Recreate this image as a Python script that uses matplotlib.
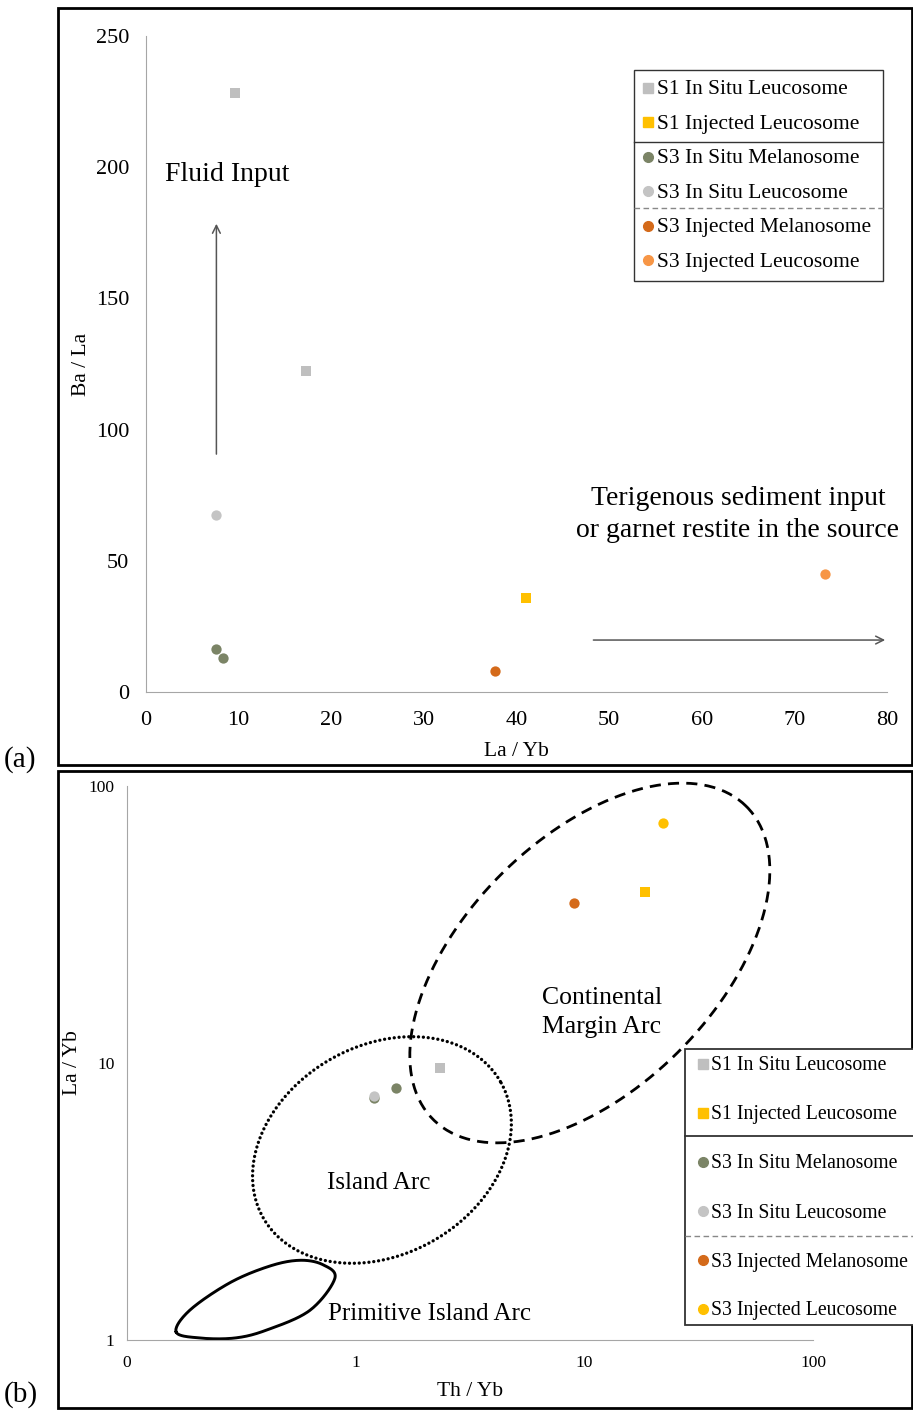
import numpy as np
import matplotlib
matplotlib.use("Agg")
import matplotlib.pyplot as plt
from matplotlib.lines import Line2D
from matplotlib.patches import Rectangle

plt.rcParams['font.family'] = ['Liberation Serif', 'DejaVu Serif']

W, H = 913, 1412

# ---- data, panel (a): Ba/La vs La/Yb ----
a_s1_insitu_leu_x = [9.6, 17.3]
a_s1_insitu_leu_y = [228.3, 122.3]
a_s1_inj_leu_x = [41.0]
a_s1_inj_leu_y = [35.8]
a_s3_insitu_mel_x = [7.6, 8.3]
a_s3_insitu_mel_y = [16.4, 13.0]
a_s3_insitu_leu_x = [7.6]
a_s3_insitu_leu_y = [67.5]
a_s3_inj_mel_x = [37.7]
a_s3_inj_mel_y = [8.0]
a_s3_inj_leu_x = [73.3]
a_s3_inj_leu_y = [45.0]

# ---- data, panel (b): La/Yb vs Th/Yb ----
b_s1_insitu_leu_x = [2.33]
b_s1_insitu_leu_y = [9.6]
b_s1_inj_leu_x = [18.4]
b_s1_inj_leu_y = [41.4]
b_s3_insitu_mel_x = [1.2, 1.5]
b_s3_insitu_mel_y = [7.47, 8.12]
b_s3_insitu_leu_x = [1.2]
b_s3_insitu_leu_y = [7.6]
b_s3_inj_mel_x = [8.98]
b_s3_inj_mel_y = [37.8]
b_s3_inj_leu_x = [22.0]
b_s3_inj_leu_y = [73.5]

labels = ["S1 In Situ Leucosome", "S1 Injected Leucosome",
          "S3 In Situ Melanosome", "S3 In Situ Leucosome",
          "S3 Injected Melanosome", "S3 Injected Leucosome"]
markers = ["s", "s", "o", "o", "o", "o"]
colors_a = ["#BFBFBF", "#FFC000", "#7B8466", "#C4C4C4", "#D46A1A", "#F79646"]
colors_b = ["#BFBFBF", "#FFC000", "#7B8466", "#C4C4C4", "#D46A1A", "#FFC000"]

# Primitive Island Arc boundary (Th/Yb, La/Yb)
pia_x = [0.164, 0.208, 0.297, 0.409, 0.631, 0.811, 0.719, 0.571, 0.422, 0.282, 0.188]
pia_y = [1.069, 1.017, 1.017, 1.087, 1.28, 1.67, 1.87, 1.94, 1.85, 1.61, 1.28]


def fx(px):
    return px / W


def fy(py):
    return 1 - py / H


def ellipse_log(cu, cv, ax_u, ax_v, bx_u, bx_v, n=300):
    t = np.linspace(0, 2 * np.pi, n)
    u = cu + ax_u * np.cos(t) + bx_u * np.sin(t)
    v = cv + ax_v * np.cos(t) + bx_v * np.sin(t)
    return 10 ** u, 10 ** v


def closed_spline(xs, ys, n=30):
    P = np.column_stack([np.log10(xs), np.log10(ys)])
    k = len(P)
    t = np.linspace(0, 1, n, endpoint=False)[:, None]
    out = []
    for i in range(k):
        p0, p1, p2, p3 = P[i - 1], P[i], P[(i + 1) % k], P[(i + 2) % k]
        out.append(0.5 * (2 * p1 + (-p0 + p2) * t + (2 * p0 - 5 * p1 + 4 * p2 - p3) * t ** 2
                          + (-p0 + 3 * p1 - 3 * p2 + p3) * t ** 3))
    out = np.vstack(out + [out[0][:1]])
    return 10 ** out[:, 0], 10 ** out[:, 1]


def draw_legend(fig, x0, y0, x1, y1, first_row, row_h, sep1, sep2, colors, fs, mx, tx, lw):
    fig.add_artist(Rectangle((fx(x0), fy(y1)), fx(x1) - fx(x0), fy(y0) - fy(y1),
                             transform=fig.transFigure, facecolor="white",
                             edgecolor="#333333", lw=lw, zorder=5))
    fig.add_artist(Line2D([fx(x0), fx(x1)], [fy(sep1), fy(sep1)], transform=fig.transFigure,
                          color="#333333", lw=lw, zorder=6))
    fig.add_artist(Line2D([fx(x0), fx(x1)], [fy(sep2), fy(sep2)], transform=fig.transFigure,
                          color="#888888", lw=1, ls=(0, (4, 2.5)), zorder=6))
    for i, (lab, m, c) in enumerate(zip(labels, markers, colors)):
        yy = first_row + i * row_h
        fig.add_artist(Line2D([fx(mx)], [fy(yy)], transform=fig.transFigure, marker=m,
                              markersize=7 if m == "o" else 6.5, color=c, ls="none", zorder=7))
        fig.text(fx(tx), fy(yy + 2), lab, fontsize=fs, va="center", ha="left", zorder=7)


fig = plt.figure(figsize=(W / 100, H / 100), dpi=100)

# panel frames
for (x0, y0, x1, y1) in [(58, 8, 912, 765), (58, 771, 912, 1408)]:
    fig.add_artist(Rectangle((fx(x0), fy(y1)), fx(x1) - fx(x0), fy(y0) - fy(y1),
                             transform=fig.transFigure, fill=False, edgecolor="black", lw=2))
fig.text(fx(4), fy(760), "(a)", fontsize=21, va="center", ha="left")
fig.text(fx(4), fy(1395), "(b)", fontsize=21, va="center", ha="left")

# ---------------- panel (a) ----------------
axA = fig.add_axes([fx(146), fy(692), fx(887) - fx(146), fy(36) - fy(692)])
sa = [(a_s1_insitu_leu_x, a_s1_insitu_leu_y), (a_s1_inj_leu_x, a_s1_inj_leu_y),
      (a_s3_insitu_mel_x, a_s3_insitu_mel_y), (a_s3_insitu_leu_x, a_s3_insitu_leu_y),
      (a_s3_inj_mel_x, a_s3_inj_mel_y), (a_s3_inj_leu_x, a_s3_inj_leu_y)]
for (x, y), m, c in zip(sa, markers, colors_a):
    axA.scatter(x, y, marker=m, s=55 if m == "o" else 48, color=c, zorder=3, linewidths=0)
axA.set_xlim(0, 80)
axA.set_ylim(0, 250)
axA.set_xticks(range(0, 81, 10))
axA.set_yticks(range(0, 251, 50))
axA.tick_params(length=0, labelsize=16, pad=12)
axA.tick_params(axis="x", pad=14)
for s in ["top", "right"]:
    axA.spines[s].set_visible(False)
for s in ["left", "bottom"]:
    axA.spines[s].set_color("#A6A6A6")
axA.set_xlabel("La / Yb", fontsize=15.5, va="center")
axA.set_ylabel("Ba / La", fontsize=15.5, va="center")
axA.xaxis.set_label_coords(0.5, -60 / 656)
axA.yaxis.set_label_coords(-64 / 741, 0.5)

axA.annotate("", xy=(7.6, 179.5), xytext=(7.6, 89.6),
             arrowprops=dict(arrowstyle="->", color="#555555", lw=1.1, mutation_scale=14))
axA.annotate("", xy=(80.1, 19.8), xytext=(48.0, 19.8), annotation_clip=False,
             arrowprops=dict(arrowstyle="->", color="#555555", lw=1.1, mutation_scale=14))
axA.text(2.1, 197.4, "Fluid Input", fontsize=20, ha="left", va="center")
axA.text(63.9, 67.5, "Terigenous sediment input\nor garnet restite in the source",
         fontsize=20, ha="center", va="center", linespacing=1.38)

draw_legend(fig, 634, 70, 883, 281, 88, 34.4, 142, 208, colors_a, 15.5, 648, 657, 1)

# ---------------- panel (b) ----------------
axB = fig.add_axes([fx(127), fy(1340), fx(813) - fx(127), fy(786) - fy(1340)])
sb = [(b_s1_insitu_leu_x, b_s1_insitu_leu_y), (b_s1_inj_leu_x, b_s1_inj_leu_y),
      (b_s3_insitu_mel_x, b_s3_insitu_mel_y), (b_s3_insitu_leu_x, b_s3_insitu_leu_y),
      (b_s3_inj_mel_x, b_s3_inj_mel_y), (b_s3_inj_leu_x, b_s3_inj_leu_y)]
for (x, y), m, c in zip(sb, markers, colors_b):
    axB.scatter(x, y, marker=m, s=55 if m == "o" else 48, color=c, zorder=3, linewidths=0)
axB.set_xscale("log")
axB.set_yscale("log")
axB.set_xlim(0.1, 100)
axB.set_ylim(1, 100)
axB.set_xticks([0.1, 1, 10, 100])
axB.set_xticklabels(["0", "1", "10", "100"])
axB.set_yticks([1, 10, 100])
axB.set_yticklabels(["1", "10", "100"])
axB.minorticks_off()
axB.tick_params(length=0, labelsize=12.5, pad=11)
axB.tick_params(axis="y", pad=9)
for s in ["top", "right"]:
    axB.spines[s].set_visible(False)
for s in ["left", "bottom"]:
    axB.spines[s].set_color("#A6A6A6")
axB.set_xlabel("Th / Yb", fontsize=15.5, va="center")
axB.set_ylabel("La / Yb", fontsize=15.5, va="center")
axB.xaxis.set_label_coords(0.5, -51 / 554)
axB.yaxis.set_label_coords(-55 / 686, 0.5)

# Continental Margin Arc (dashed), Island Arc (dotted), Primitive Island Arc (solid)
ex, ey = ellipse_log(1.024, 1.361, 0.685, 0.565, -0.388, 0.320)
axB.plot(ex, ey, color="black", lw=2.0, ls=(0, (4, 2.6)), clip_on=False)
ix, iy = ellipse_log(0.115, 0.686, 0.518, 0.247, -0.228, 0.326)
axB.plot(ix, iy, color="black", lw=2.4, ls=(0, (0.01, 1.45)), dash_capstyle="round",
         clip_on=False)
px, py = closed_spline(pia_x, pia_y)
axB.plot(px, py, color="black", lw=2.1, clip_on=False)

axB.text(11.9, 15.2, "Continental\nMargin Arc", fontsize=18.5, ha="center", va="center",
         multialignment="left", linespacing=1.38)
axB.text(1.26, 3.69, "Island Arc", fontsize=18, ha="center", va="center")
axB.text(2.11, 1.24, "Primitive Island Arc", fontsize=18, ha="center", va="center")

draw_legend(fig, 685, 1049, 915, 1325, 1064, 49, 1136, 1236, colors_b, 14.2, 703, 711, 1.3)

fig.savefig("out.png", dpi=100)
